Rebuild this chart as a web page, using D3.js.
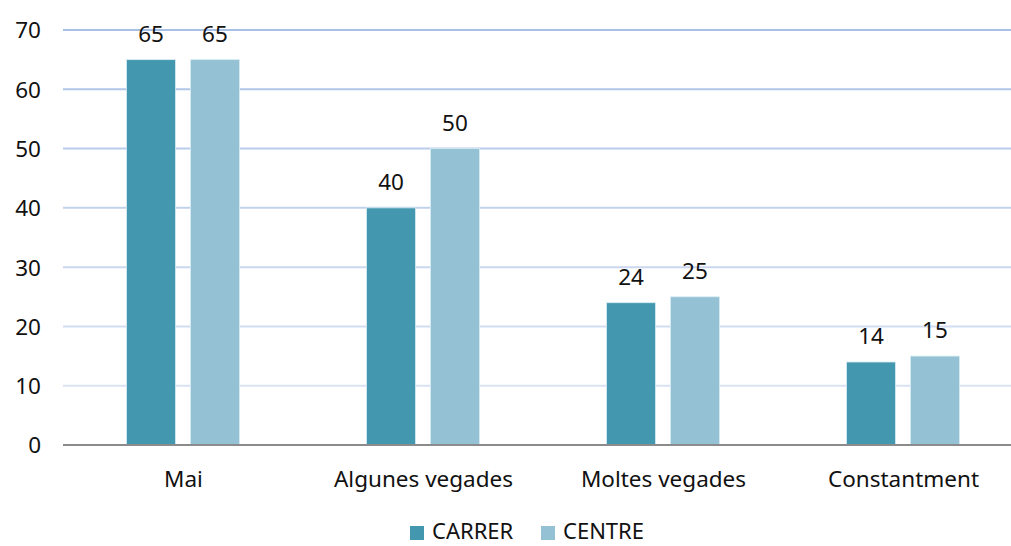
<!DOCTYPE html>
<html><head><meta charset="utf-8">
<script src="https://cdn.jsdelivr.net/npm/d3@7"></script>
<style>body{margin:0;background:#fff}svg{display:block}text{font-family:"Noto Sans",sans-serif;fill:#111}</style>
</head><body><svg id="c" width="1011" height="546"></svg>
<script>
const categories = ["Mai", "Algunes vegades", "Moltes vegades", "Constantment"];
const seriesNames = ["CARRER", "CENTRE"];
const carrer = [65, 40, 24, 14];
const centre = [65, 50, 25, 15];
const yTicks = [0, 10, 20, 30, 40, 50, 60, 70];
const colors = ["#4398af", "#94c2d4"];

const svg = d3.select("#c");
const x = d3.scaleBand().domain(categories).range([63.5, 1023.5]).paddingInner(0).paddingOuter(0);
const y = d3.scaleLinear().domain([0, 70]).range([445, 30]);
const inner = d3.scaleBand().domain(seriesNames).range([63, 176]).paddingInner(0.234);
const gridColor = d3.scaleLinear().domain([0, 70]).range(["#e2e9f6", "#a9c0e6"]);

// gridlines
svg.append("g").selectAll("line").data(yTicks.filter(d => d > 0)).join("line")
  .attr("x1", 63).attr("x2", 1011)
  .attr("y1", d => y(d)).attr("y2", d => y(d))
  .attr("stroke", d => gridColor(d)).attr("stroke-width", 2);

// y axis labels
const yAxis = d3.axisLeft(y).tickValues(yTicks).tickSize(0).tickPadding(0);
const ya = svg.append("g").attr("transform", "translate(41,0)").call(yAxis);
ya.select(".domain").remove();
ya.selectAll("text").style("font-size", "22.5px").attr("fill", "#111").attr("dy", "0.35em");

const series = seriesNames.map((s, i) => ({ name: s, values: i === 0 ? carrer : centre, color: colors[i] }));

const groups = svg.append("g").selectAll("g").data(series).join("g");
groups.selectAll("rect").data(s => s.values.map((v, j) => ({ v, cat: categories[j], s }))).join("rect")
  .attr("x", d => x(d.cat) + inner(d.s.name))
  .attr("width", inner.bandwidth())
  .attr("y", d => y(d.v))
  .attr("height", d => y(0) - y(d.v))
  .attr("fill", d => d.s.color)
  .attr("stroke", "#d9ecf2").attr("stroke-width", 0.8);

groups.selectAll("text.val").data(s => s.values.map((v, j) => ({ v, cat: categories[j], s }))).join("text")
  .attr("class", "val")
  .attr("x", d => x(d.cat) + inner(d.s.name) + inner.bandwidth() / 2)
  .attr("y", d => y(d.v) - 18)
  .attr("text-anchor", "middle")
  .style("font-size", "22.5px")
  .text(d => d.v);

// x axis
svg.append("line").attr("x1", 63).attr("x2", 1011).attr("y1", y(0)).attr("y2", y(0))
  .attr("stroke", "#8c8c8c").attr("stroke-width", 2);
const xAxis = d3.axisBottom(x).tickSize(0).tickPadding(0);
const xa = svg.append("g").attr("transform", `translate(0,${y(0)})`).call(xAxis);
xa.select(".domain").remove();
xa.selectAll("text").style("font-size", "22.5px").attr("fill", "#111").attr("y", 42).attr("dy", 0);

// legend
const legendX = [410, 541];
const lg = svg.append("g").selectAll("g").data(series).join("g")
  .attr("transform", (d, i) => `translate(${legendX[i]},526)`);
lg.append("rect").attr("width", 14).attr("height", 14).attr("fill", d => d.color);
lg.append("text").attr("x", 22).attr("y", 13).style("font-size", "22px").text(d => d.name);
</script></body></html>
